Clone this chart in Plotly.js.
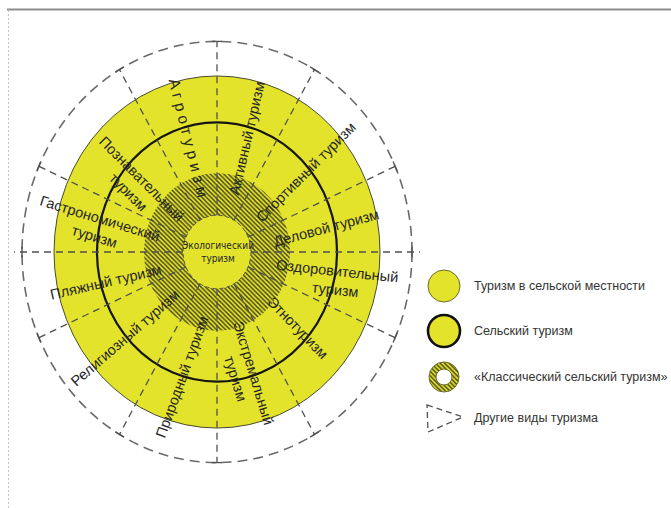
<!DOCTYPE html>
<html>
<head>
<meta charset="utf-8">
<script src="https://cdn.plot.ly/plotly-3.0.1.min.js"></script>
<style>html,body{margin:0;padding:0;background:#fff;}#chart{width:671px;height:508px;}</style>
</head>
<body>
<div id="chart"></div>
<script>
// ---------- DATA ----------
const sectorLabels = ['Агротуризм','Активный туризм','Спортивный туризм','Деловой туризм',
  'Оздоровительный туризм','Этнотуризм','Экстремальный туризм','Природный туризм',
  'Религиозный туризм','Пляжный туризм','Гастрономический туризм','Познавательный туризм'];
const boundaryAngles = [90, 60, 24, 0, -24, -60, -90, -120, -156, 180, 156, 120];
const centerLabel = 'Экологический туризм';
const legendLabels = ['Туризм в сельской местности','Сельский туризм','«Классический сельский туризм»','Другие виды туризма'];
// ring radii (diagram units)
const rOther = 195, rRural = 163, rVillage = 120, rClassic = 73, rEco = 34;

// ---------- LAYOUT / STYLE ----------
const W = 671, H = 508, CX = 217, CY = 252, KY = 1.08;
const YEL = '#E4E32C';
const TXT = '#262626';
// label placement in pixels: [x, y, rotation]
const labelPlace = [[188,138,76],[247,138,-77],[306,172,-45],[326,228,-15],[336,280,6],
  [298,328,46],[245,376,73],[182,377,-70],[125,338,-41],[106,282,-13],[97,227,17],[135,185,45]];
const twoLine = [false,false,false,false,true,false,true,false,false,false,true,true];
const spaced = [true,false,false,false,false,false,false,false,false,false,false,false];

function px2x(px){ return px - CX; }
function px2y(py){ return (CY - py) / KY; }
function circ(cx, cy, r){ return {x0:cx-r, x1:cx+r, y0:cy-r, y1:cy+r}; }
function circPts(cx, cy, rx, ry){
  const xs=[], ys=[];
  for(let i=0;i<=180;i++){ const a=i/180*2*Math.PI; xs.push(cx+rx*Math.cos(a)); ys.push(cy+ry*Math.sin(a)); }
  return {xs, ys};
}

const shapes = [];
// frame
shapes.push({type:'line', xref:'paper', yref:'paper', x0:7/W, x1:1, y0:1-9.5/H, y1:1-9.5/H, line:{color:'#8c8c8c', width:2}, layer:'below'});
shapes.push({type:'line', xref:'paper', yref:'paper', x0:8.5/W, x1:8.5/W, y0:0, y1:1-10/H, line:{color:'#c4c4c4', width:1, dash:'2px,2px'}, layer:'below'});

// yellow disk (rural tourism)
shapes.push(Object.assign({type:'circle', xref:'x', yref:'y', fillcolor:YEL, line:{color:'#4a4a30', width:1}, layer:'below'}, circ(0,0,rRural)));
// outer dashed circle (other tourism)
shapes.push(Object.assign({type:'circle', xref:'x', yref:'y', fillcolor:'rgba(0,0,0,0)', line:{color:'#6a6a6a', width:1.6, dash:'10px,6px'}, layer:'below'}, circ(0,0,rOther)));

// eco inner circle (above hatch)
shapes.push(Object.assign({type:'circle', xref:'x', yref:'y', fillcolor:YEL, line:{color:'#555', width:1, dash:'4px,3px'}, layer:'above'}, circ(0,0,rEco)));
// black circle (village tourism)
shapes.push(Object.assign({type:'circle', xref:'x', yref:'y', fillcolor:'rgba(0,0,0,0)', line:{color:'#151515', width:2.2}, layer:'above'}, circ(0,0,rVillage)));

// radial boundaries
boundaryAngles.forEach(function(a){
  const t = a*Math.PI/180, c=Math.cos(t), s=Math.sin(t);
  const rEnd = (a===0||a===180) ? rOther+8 : rOther;
  shapes.push({type:'line', xref:'x', yref:'y', x0:rEco*c, y0:rEco*s, x1:rEnd*c, y1:rEnd*s,
    line:{color:'#505050', width:1.3, dash:'7px,5px'}, layer:'above'});
  // tangential tick at outer end
  const L=5;
  shapes.push({type:'line', xref:'x', yref:'y', x0:rOther*c - L*s, y0:rOther*s + L*c, x1:rOther*c + L*s, y1:rOther*s - L*c,
    line:{color:'#505050', width:1.3}, layer:'above'});
});

// legend icons
const legY = [286, 331, 377, 418];
const legX = 444, legR = 16;
shapes.push({type:'circle', xref:'x', yref:'y', x0:px2x(legX-legR), x1:px2x(legX+legR), y0:px2y(legY[0]+legR), y1:px2y(legY[0]-legR), fillcolor:YEL, line:{color:'#6b6b25', width:1}});
shapes.push({type:'circle', xref:'x', yref:'y', x0:px2x(legX-legR), x1:px2x(legX+legR), y0:px2y(legY[1]+legR), y1:px2y(legY[1]-legR), fillcolor:YEL, line:{color:'#111', width:2.6}});
shapes.push({type:'circle', xref:'x', yref:'y', x0:px2x(legX-8), x1:px2x(legX+8), y0:px2y(legY[2]+8), y1:px2y(legY[2]-8), fillcolor:'#fff', line:{color:'#6b6b25', width:1}, layer:'above'});
shapes.push({type:'circle', xref:'x', yref:'y', x0:px2x(legX-15), x1:px2x(legX+15), y0:px2y(legY[2]+15), y1:px2y(legY[2]-15), fillcolor:'rgba(0,0,0,0)', line:{color:'#6b6b25', width:1}, layer:'above'});
shapes.push({type:'path', xref:'x', yref:'y',
  path:'M '+px2x(427)+','+px2y(405)+' L '+px2x(463)+','+px2y(417)+' L '+px2x(428)+','+px2y(432)+' Z',
  line:{color:'#505050', width:1.3, dash:'6px,4px'}, fillcolor:'rgba(0,0,0,0)'});

// ---------- TRACES ----------
const hatch = circPts(0,0,rClassic,rClassic);
const legHatch = circPts(px2x(legX), px2y(legY[2]), 15, 15/KY);
const patt = {shape:'\\', fgcolor:'#3a3a1e', bgcolor:YEL, size:3.2, solidity:0.42};
const traces = [
  {type:'scatter', mode:'lines', x:hatch.xs, y:hatch.ys, fill:'toself', fillcolor:YEL, fillpattern:patt, line:{width:0, color:YEL}, hoverinfo:'skip', showlegend:false},
  {type:'scatter', mode:'lines', x:legHatch.xs, y:legHatch.ys, fill:'toself', fillcolor:YEL, fillpattern:patt, line:{width:0, color:YEL}, hoverinfo:'skip', showlegend:false}
];

// ---------- ANNOTATIONS ----------
const FONT = 'Liberation Sans, Arial, sans-serif';
const annotations = [];
sectorLabels.forEach(function(lbl, i){
  let t = lbl;
  if (spaced[i]) t = lbl.split('').join(' ');
  if (twoLine[i]) t = lbl.replace(' ', '<br>');
  const p = labelPlace[i];
  annotations.push({xref:'paper', yref:'paper', x:p[0]/W, y:1-p[1]/H, text:t, textangle:p[2], showarrow:false,
    xanchor:'center', yanchor:'middle', align:'center', font:{family:FONT, size:spaced[i]?15.5:14.5, color:TXT}});
});
annotations.push({xref:'paper', yref:'paper', x:218/W, y:1-252/H, text:centerLabel.replace(' ','<br>'), showarrow:false,
  xanchor:'center', yanchor:'middle', align:'center', font:{family:'Liberation Sans Narrow, DejaVu Sans Condensed, sans-serif', size:10, color:TXT}});
legendLabels.forEach(function(lbl, i){
  annotations.push({xref:'paper', yref:'paper', x:472/W, y:1-legY[i]/H, text:lbl, showarrow:false,
    xanchor:'left', yanchor:'middle', font:{family:FONT, size:12.5, color:'#333'}});
});

const layout = {
  width:W, height:H, margin:{l:0,r:0,t:0,b:0}, paper_bgcolor:'#fff', plot_bgcolor:'#fff',
  showlegend:false,
  xaxis:{range:[-CX, W-CX], visible:false, fixedrange:true},
  yaxis:{range:[-(H-CY)/KY, CY/KY], visible:false, fixedrange:true},
  shapes:shapes, annotations:annotations
};
Plotly.newPlot('chart', traces, layout, {staticPlot:true, displayModeBar:false});
</script>
</body>
</html>
